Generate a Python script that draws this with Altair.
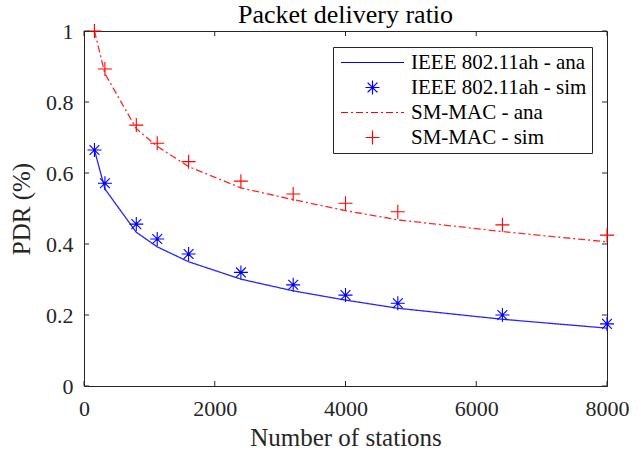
import altair as alt
import pandas as pd

# ---- data ----
stations = [160, 320, 800, 1120, 1600, 2400, 3200, 4000, 4800, 6400, 8000]
ieee_ana = [0.665, 0.555, 0.433, 0.392, 0.350, 0.301, 0.268, 0.242, 0.219, 0.188, 0.163]
ieee_sim = [0.665, 0.571, 0.456, 0.414, 0.372, 0.320, 0.285, 0.256, 0.233, 0.200, 0.175]
smmac_ana = [1.000, 0.880, 0.725, 0.675, 0.618, 0.558, 0.525, 0.494, 0.468, 0.435, 0.406]
smmac_sim = [1.000, 0.893, 0.735, 0.684, 0.632, 0.577, 0.541, 0.515, 0.491, 0.454, 0.425]

series_names = ["IEEE 802.11ah - ana", "IEEE 802.11ah - sim", "SM-MAC - ana", "SM-MAC - sim"]
x_ticks = [0, 2000, 4000, 6000, 8000]
y_ticks = [0, 0.2, 0.4, 0.6, 0.8, 1.0]

rows = []
for name, vals in zip(series_names, [ieee_ana, ieee_sim, smmac_ana, smmac_sim]):
    for s, v in zip(stations, vals):
        rows.append({"series": name, "x": s, "y": v})
df = pd.DataFrame(rows)
df_ana = df[df.series.str.endswith("ana")]
df_sim = df[df.series.str.endswith("sim")]
df_xt = pd.DataFrame({"x": x_ticks})
df_yt = pd.DataFrame({"y": y_ticks})

W, H = 523, 355
FONT = "Liberation Serif"
AX = "#262626"

colors = ["#0000ff", "#0000ff", "#ff0000", "#ff0000"]
line_path = "M-4.5,0H4.5"
ast_path = "M-1,0H1M0,-1V1M-0.7,-0.7L0.7,0.7M-0.7,0.7L0.7,-0.7"
plus_path = "M-1,0H1M0,-1V1"
shapes = [line_path, ast_path, line_path, plus_path]
dashes = [[1, 0], [1, 0], [7, 3, 2, 3], [1, 0]]

legend = alt.Legend(
    orient="none", legendX=249, legendY=16,
    fillColor="white", strokeColor=AX, padding=5,
    labelFont=FONT, labelFontSize=21, labelColor="black", labelLimit=400,
    symbolSize=196, symbolStrokeWidth=1.2, symbolOpacity=1, rowPadding=3,
    symbolOffset=24, labelOffset=28,
)

xs = alt.Scale(domain=[0, 8000], nice=False)
ys = alt.Scale(domain=[0, 1], nice=False)
cs = alt.Scale(domain=series_names, range=colors)
x_axis = alt.Axis(values=x_ticks, format="d", labelFlush=False)
y_axis = alt.Axis(values=y_ticks, format="~g")
X = alt.X("x:Q", scale=xs, title="Number of stations", axis=x_axis)
Y = alt.Y("y:Q", scale=ys, title="PDR (%)", axis=y_axis)

lines = alt.Chart(df_ana).mark_line(strokeWidth=1.3, strokeOpacity=0.85).encode(
    x=X, y=Y,
    color=alt.Color("series:N", scale=cs, title=None, legend=legend),
    strokeDash=alt.StrokeDash("series:N", scale=alt.Scale(domain=series_names, range=dashes),
                              title=None, legend=legend),
)

points = alt.Chart(df_sim).mark_point(filled=False, size=196, strokeWidth=1.1, opacity=1).encode(
    x=X, y=Y,
    color=alt.Color("series:N", scale=cs, title=None, legend=legend),
    shape=alt.Shape("series:N", scale=alt.Scale(domain=series_names, range=shapes),
                    title=None, legend=legend),
)

xt_bot = alt.Chart(df_xt).mark_rule(color=AX, strokeWidth=1).encode(
    x=X, y=alt.value(H), y2=alt.value(H - 5))
xt_top = alt.Chart(df_xt).mark_rule(color=AX, strokeWidth=1).encode(
    x=X, y=alt.value(0), y2=alt.value(5))
yt_left = alt.Chart(df_yt).mark_rule(color=AX, strokeWidth=1).encode(
    y=Y, x=alt.value(0), x2=alt.value(5))
yt_right = alt.Chart(df_yt).mark_rule(color=AX, strokeWidth=1).encode(
    y=Y, x=alt.value(W), x2=alt.value(W - 5))

chart = alt.layer(lines, points, xt_bot, xt_top, yt_left, yt_right).properties(
    width=W, height=H,
    title=alt.TitleParams("Packet delivery ratio", font=FONT, fontSize=26,
                          fontWeight="normal", color="black", anchor="middle",
                          frame="group", offset=3, dy=11),
    autosize=alt.AutoSizeParams(type="none"),
    padding={"left": 84, "top": 31, "right": 36, "bottom": 71},
).configure_view(stroke=AX, strokeWidth=1).configure_axis(
    domainColor=AX, ticks=False, grid=False,
    labelFont=FONT, labelFontSize=22, labelColor=AX,
    titleFont=FONT, titleFontSize=25, titleColor=AX, titleFontWeight="normal",
).configure_axisX(labelPadding=12, titlePadding=6).configure_axisY(labelPadding=11, titlePadding=11)

chart.save("out.html", embed_options={"renderer": "svg", "actions": False})
